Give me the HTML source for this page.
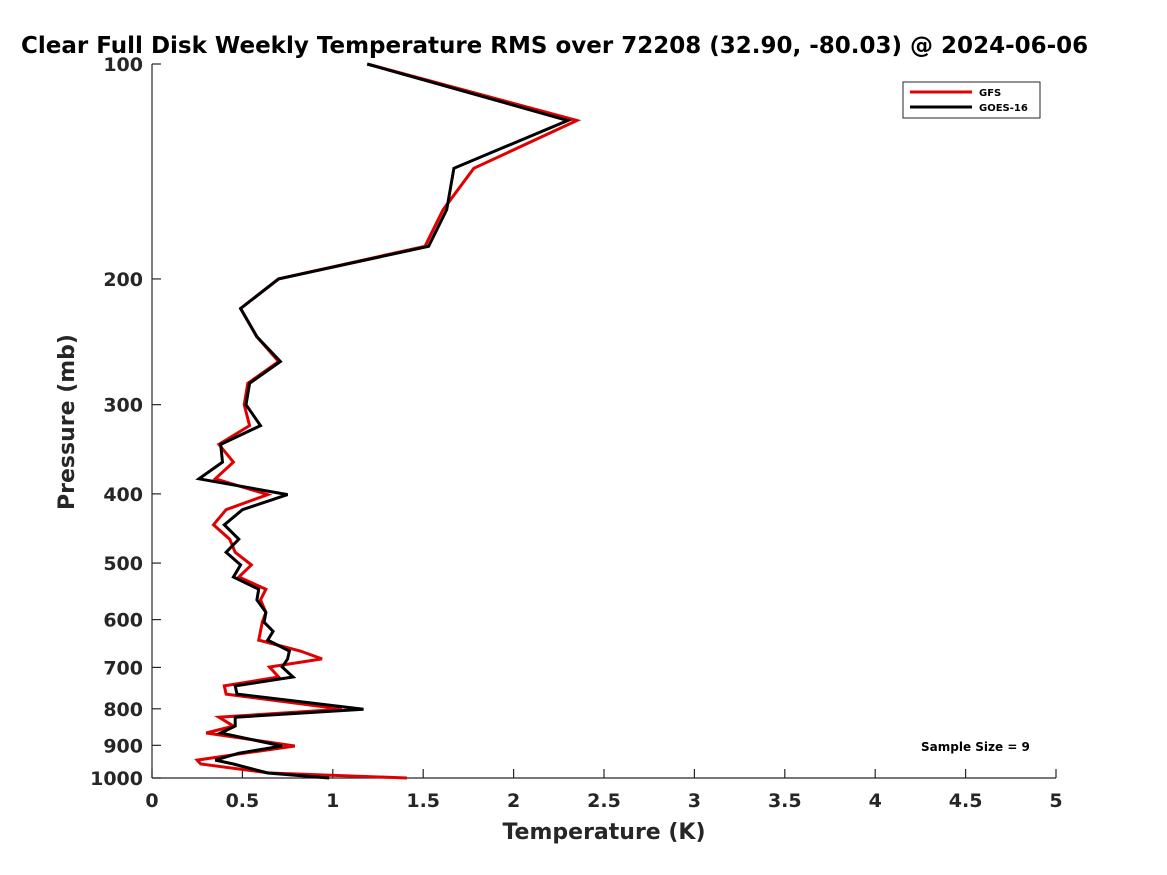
<!DOCTYPE html>
<html><head><meta charset="utf-8"><style>
body{margin:0;background:#fff;}
svg{display:block;font-family:"DejaVu Sans","Liberation Sans",sans-serif;}
</style></head><body>
<svg id="chart" width="1167" height="875" viewBox="0 0 1167 875">
<rect width="1167" height="875" fill="#fff"/>
<text x="21" y="53" font-size="23" font-weight="bold" fill="#000">Clear Full Disk Weekly Temperature RMS over 72208 (32.90, -80.03) @ 2024-06-06</text>
<g id="axes"></g>
<g id="series"></g>
<g>
<rect x="903" y="82" width="137" height="36" fill="#fff" stroke="#262626" stroke-width="1"/>
<line x1="910" y1="92" x2="972" y2="92" stroke="#e00000" stroke-width="3"/>
<text x="979" y="96" font-size="10" font-weight="bold" fill="#000">GFS</text>
<line x1="910" y1="107" x2="972" y2="107" stroke="#000" stroke-width="3"/>
<text x="979" y="111" font-size="10" font-weight="bold" fill="#000">GOES-16</text>
</g>
<text x="921" y="751" font-size="12" font-weight="bold" fill="#000">Sample Size = 9</text>
</svg>
<script>
const pressureLevels=[100,120,140,160,180,200,220,241,261,280,300,321,341,361,381,401,421,442,463,483,503,523,544,563,586,605,623,641,664,681,699,722,743,763,801,822,846,865,902,923,944,956,984,1000];
const gfsValues=[1.19,2.35,1.78,1.61,1.51,0.70,0.49,0.58,0.70,0.53,0.51,0.54,0.37,0.45,0.35,0.64,0.41,0.34,0.43,0.46,0.55,0.48,0.63,0.60,0.63,0.61,0.60,0.59,0.82,0.94,0.65,0.70,0.40,0.41,1.05,0.37,0.45,0.30,0.79,0.51,0.25,0.27,0.65,1.41];
const goesValues=[1.19,2.30,1.67,1.63,1.53,0.70,0.49,0.58,0.71,0.54,0.52,0.60,0.38,0.39,0.26,0.75,0.50,0.40,0.48,0.41,0.49,0.45,0.59,0.58,0.63,0.62,0.67,0.64,0.76,0.75,0.72,0.78,0.46,0.47,1.17,0.46,0.46,0.38,0.72,0.48,0.35,0.45,0.64,0.98];
const xTicks=[0,0.5,1,1.5,2,2.5,3,3.5,4,4.5,5];
const xTickLabels=["0","0.5","1","1.5","2","2.5","3","3.5","4","4.5","5"];
const yTicks=[100,200,300,400,500,600,700,800,900,1000];
const yTickLabels=["100","200","300","400","500","600","700","800","900","1000"];

const X0=152,X1=1056,Y0=64,Y1=778;
function xs(t){return X0+(t-0)/(5-0)*(X1-X0);}
function ys(p){return Y0+(Math.log10(p)-2)/(1)*(Y1-Y0);}
const NS="http://www.w3.org/2000/svg";
function mk(tag,attrs,parent){const e=document.createElementNS(NS,tag);for(const k in attrs)e.setAttribute(k,attrs[k]);parent.appendChild(e);return e;}
const axes=document.getElementById('axes');
const ax=mk('g',{},axes);


const yl=mk('line',{x1:X0,y1:Y0,x2:X0,y2:Y1,stroke:'#262626','stroke-width':1.2},ax);


const xl=mk('line',{x1:X0,y1:Y1,x2:X1,y2:Y1,stroke:'#262626','stroke-width':1.2},ax);


xTicks.forEach((t,i)=>{
  const x=xs(t);
  mk('line',{x1:x,y1:Y1,x2:x,y2:Y1-9,stroke:'#262626','stroke-width':1.2},ax);
  const tx=mk('text',{x:x,y:Y1+29,'font-size':19,'font-weight':'bold','text-anchor':'middle',fill:'#262626'},ax);
  tx.textContent=xTickLabels[i];
  
  
});
yTicks.forEach((p,i)=>{
  const y=ys(p);
  mk('line',{x1:X0,y1:y,x2:X0+9,y2:y,stroke:'#262626','stroke-width':1.2},ax);
  const tx=mk('text',{x:X0-9,y:y+7,'font-size':19,'font-weight':'bold','text-anchor':'end',fill:'#262626'},ax);
  tx.textContent=yTickLabels[i];
  
  
});
const xt=mk('text',{x:604,y:839,'font-size':22,'font-weight':'bold','text-anchor':'middle',fill:'#262626'},ax);
xt.textContent='Temperature (K)';


const yt=mk('text',{x:0,y:0,'font-size':22,'font-weight':'bold','text-anchor':'middle',fill:'#262626',transform:'translate(74,422) rotate(-90)'},ax);
yt.textContent='Pressure (mb)';



const ser=document.getElementById('series');
function drawLine(vals,color,name){
  const pts=vals.map((v,i)=>xs(v).toFixed(1)+','+ys(pressureLevels[i]).toFixed(1)).join(' ');
  const pl=mk('polyline',{points:pts,fill:'none',stroke:color,'stroke-width':3,'stroke-linejoin':'miter'},ser);
  
  
}
drawLine(gfsValues,'#e00000','gfs-line');
drawLine(goesValues,'#000000','goes16-line');
</script>
</body></html>
